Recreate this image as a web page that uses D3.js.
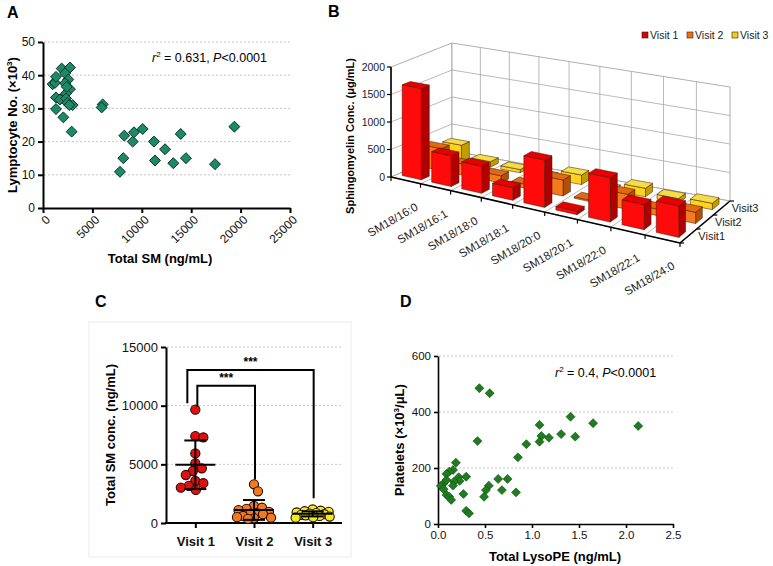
<!DOCTYPE html>
<html>
<head>
<meta charset="utf-8">
<script src="https://cdn.jsdelivr.net/npm/d3@7"></script>
<style>
  body { margin: 0; background: #fff; }
  text { font-family: Arial, "Liberation Sans", sans-serif; }
</style>
</head>
<body>
<script>
// ---------------- data ----------------
// A: total SM vs lymphocyte count
const totalSM = [980, 1215, 1315, 1890, 2730, 2230, 2560, 2230, 2730, 2330, 1315, 1720, 2330, 2460,
  3000, 2660, 1315, 2060, 2900, 6040, 5940, 2400,
  7790, 8130, 8230, 9080, 9210, 10090, 11230, 11340, 12350, 13190, 13940, 14470, 17410, 19370];
const lymphocytes = [37.3, 37.7, 39.5, 42.0, 42.3, 40.6, 38.7, 37.6, 35.8, 34.5, 33.3, 32.7, 33.0, 31.7,
  31.0, 31.0, 29.8, 27.3, 23.0, 31.2, 30.3, 36.5,
  10.9, 15.0, 21.8, 20.0, 22.8, 23.8, 20.0, 14.3, 17.7, 13.5, 22.3, 15.0, 13.2, 24.5];
const xTicksA = [0, 5000, 10000, 15000, 20000, 25000];
const yTicksA = [0, 10, 20, 30, 40, 50];

// B: sphingomyelin species by visit
const smSpecies = ["SM18/16:0", "SM18/16:1", "SM18/18:0", "SM18/18:1", "SM18/20:0",
  "SM18/20:1", "SM18/22:0", "SM18/22:1", "SM18/24:0"];
const visits = ["Visit 1", "Visit 2", "Visit 3"];
const depthLabels = ["Visit1", "Visit2", "Visit3"];
const visit1Conc = [1650, 550, 480, 220, 820, 60, 750, 420, 520];
const visit2Conc = [400, 200, 130, 70, 280, 25, 260, 110, 190];
const visit3Conc = [300, 100, 60, 30, 170, 15, 150, 80, 110];
const yTicksB = [0, 500, 1000, 1500, 2000];

// C: total SM per visit
const smVisit1 = [9660, 7400, 7290, 5930, 5080, 4660, 4430, 4090, 3580, 3390, 3160, 3020, 2820];
const smVisit2 = [3300, 2700, 1450, 1300, 1200, 1100, 950, 850, 800, 750, 600, 500, 450, 400, 350];
const smVisit3 = [1150, 1050, 1000, 950, 900, 850, 800, 750, 700, 650, 600, 550, 500, 450];
const yTicksC = [0, 5000, 10000, 15000];
const sigBrackets = [
  { from: "Visit 1", to: "Visit 3", top: 13050, leftEnd: 10200, rightEnd: 2100, label: "***" },
  { from: "Visit 1", to: "Visit 2", top: 11700, leftEnd: 9900, rightEnd: 3700, label: "***" }
];

// D: total LysoPE vs platelets
const lysoPE = [0.44, 0.55, 1.41, 1.65, 2.13, 1.08, 1.31, 1.46, 1.10, 1.18, 1.08, 0.94, 0.42, 0.85,
  0.19, 0.16, 0.30, 0.12, 0.09, 0.22, 0.23, 0.17, 0.16, 0.06, 0.03, 0.06, 0.09, 0.09, 0.12, 0.14,
  0.27, 0.30, 0.33, 0.64, 0.74, 0.68, 0.54, 0.51, 0.49, 0.83];
const platelets = [485, 467, 383, 360, 350, 354, 321, 312, 314, 308, 294, 285, 296, 238,
  219, 193, 169, 187, 179, 167, 154, 151, 137, 145, 136, 124, 157, 104, 97, 86,
  107, 47, 38, 161, 161, 121, 137, 121, 97, 113];
const xTicksD = [0, 0.5, 1, 1.5, 2, 2.5];
const yTicksD = [0, 200, 400, 600];

// ---------------- drawing ----------------
const svg = d3.select("body").append("svg").attr("width", 773).attr("height", 566);

function panelLetter(x, y, s) {
  svg.append("text").attr("x", x).attr("y", y).attr("font-size", 16).attr("font-weight", "bold").text(s);
}
function styleAxis(g, size, width) {
  g.attr("font-family", "Arial, 'Liberation Sans', sans-serif").attr("font-size", size);
  g.selectAll("path, line").attr("stroke", "#000").attr("stroke-width", width);
  g.selectAll("text").attr("fill", "#111");
}
function grid(g, vals, x1, x2, yS) {
  g.selectAll(null).data(vals).join("line")
    .attr("x1", x1).attr("x2", x2).attr("y1", d => yS(d)).attr("y2", d => yS(d))
    .attr("stroke", "#b8b8b8").attr("stroke-width", 0.8).attr("stroke-dasharray", "2,2");
}
const square = d3.symbol(d3.symbolSquare);

// ---- panel A ----
panelLetter(7, 18, "A");
const gA = svg.append("g");
const xA = d3.scaleLinear([0, 25000], [43, 290]);
const yA = d3.scaleLinear([0, 50], [208, 42]);
grid(gA, yTicksA.slice(1), 44, 290, yA);
const axAx = gA.append("g").attr("transform", "translate(0,208)")
  .call(d3.axisBottom(xA).tickValues(xTicksA).tickFormat(d3.format("d")).tickSize(5).tickSizeOuter(0));
styleAxis(axAx, 12, 2);
axAx.selectAll("text").attr("text-anchor", "end").attr("transform", "rotate(-45)")
  .attr("dx", "-0.3em").attr("dy", "0.5em");
const ayAx = gA.append("g").attr("transform", "translate(43,0)")
  .call(d3.axisLeft(yA).tickValues(yTicksA).tickSize(5).tickSizeOuter(0));
styleAxis(ayAx, 12, 2);
gA.selectAll(".ptA").data(totalSM).join("path")
  .attr("d", square.size(60))
  .attr("transform", (d, i) => `translate(${xA(d)},${yA(lymphocytes[i])}) rotate(45)`)
  .attr("fill", "#1b8a68").attr("stroke", "#0b2a20").attr("stroke-width", 0.9);
const annA = gA.append("text").attr("x", 152).attr("y", 62).attr("font-size", 12.5);
annA.append("tspan").attr("font-style", "italic").text("r");
annA.append("tspan").attr("font-size", 8).attr("dy", -5).text("2");
annA.append("tspan").attr("dy", 5).text(" = 0.631, ");
annA.append("tspan").attr("font-style", "italic").text("P");
annA.append("tspan").text("<0.0001");
gA.append("text").attr("x", 160).attr("y", 263).attr("text-anchor", "middle")
  .attr("font-size", 13).attr("font-weight", "bold").text("Total SM (ng/mL)");
const tyA = gA.append("text").attr("transform", "translate(17,125) rotate(-90)").attr("text-anchor", "middle")
  .attr("font-size", 13).attr("font-weight", "bold");
tyA.append("tspan").text("Lymptocyte No. (\u00d710");
tyA.append("tspan").attr("font-size", 8).attr("dy", -5).text("3");
tyA.append("tspan").attr("dy", 5).text(")");

// ---- panel B (3D bars) ----
panelLetter(328, 17, "B");
const gB = svg.append("g");
const uB = d3.scaleBand(smSpecies, [0, 9]).paddingInner(0.35).paddingOuter(0.175);
const vB = d3.scaleBand(visits, [0, 3]).paddingInner(0.6).paddingOuter(0.3);
const zB = d3.scaleLinear([0, 2000], [0, 1]);
function projB(u, v, val) {
  const t = u / 9, tw = t / (1 + 0.1 * (1 - t)), s = v / 3;
  const w00 = (1 - tw) * (1 - s), w10 = tw * (1 - s), w01 = (1 - tw) * s, w11 = tw * s;
  const x = w00 * 391 + w10 * 680 + w01 * 452 + w11 * 730;
  const yb = w00 * 177 + w10 * 243 + w01 * 151 + w11 * 201;
  const h = w00 * 110 + w10 * 122 + w01 * 108 + w11 * 114;
  return [x, yb - zB(val) * h];
}
const polyB = pts => "M" + pts.map(p => projB(p[0], p[1], p[2]).join(",")).join("L") + "Z";
const segB = (a, b, col, w) => {
  const p = projB(a[0], a[1], a[2]), q = projB(b[0], b[1], b[2]);
  gB.append("line").attr("x1", p[0]).attr("y1", p[1]).attr("x2", q[0]).attr("y2", q[1])
    .attr("stroke", col).attr("stroke-width", w);
};
// walls and floor
[[[0, 0, 0], [0, 3, 0], [0, 3, 2000], [0, 0, 2000]],
 [[0, 3, 0], [9, 3, 0], [9, 3, 2000], [0, 3, 2000]],
 [[0, 0, 0], [9, 0, 0], [9, 3, 0], [0, 3, 0]]].forEach(q =>
  gB.append("path").attr("d", polyB(q)).attr("fill", "#fff").attr("stroke", "#9a9a9a").attr("stroke-width", 0.8));
yTicksB.slice(1, 4).forEach(t => {
  segB([0, 0, t], [0, 3, t], "#a8a8a8", 0.8);
  segB([0, 3, t], [9, 3, t], "#a8a8a8", 0.8);
});
d3.range(1, 9).forEach(u => {
  segB([u, 3, 0], [u, 3, 2000], "#a8a8a8", 0.8);
  segB([u, 0, 0], [u, 3, 0], "#a8a8a8", 0.8);
});
// bars
const concs = [visit1Conc, visit2Conc, visit3Conc];
const barColors = [
  { front: "#ff0a0a", side: "#b00000", top: "#e80000", key: "#e00000" },
  { front: "#f57a1c", side: "#b25008", top: "#e46812", key: "#f07010" },
  { front: "#ffd21c", side: "#c39c00", top: "#f5dd48", key: "#f5cc10" }
];
const bars = smSpecies.flatMap((s, i) => visits.map((vis, j) => ({ s, vis, i, j, val: concs[j][i] })))
  .sort((a, b) => b.j - a.j || a.i - b.i);
bars.forEach(b => {
  const u0 = uB(b.s), u1 = u0 + uB.bandwidth(), v0 = vB(b.vis), v1 = v0 + vB.bandwidth(), h = b.val;
  const c = barColors[b.j];
  const faces = [
    [[u1, v0, 0], [u1, v1, 0], [u1, v1, h], [u1, v0, h], c.side],
    [[u0, v0, 0], [u1, v0, 0], [u1, v0, h], [u0, v0, h], c.front],
    [[u0, v0, h], [u1, v0, h], [u1, v1, h], [u0, v1, h], c.top]
  ];
  faces.forEach(f => gB.append("path").attr("d", polyB(f.slice(0, 4)))
    .attr("fill", f[4]).attr("stroke", "#3a1400").attr("stroke-width", 0.5).attr("stroke-linejoin", "round"));
});
// axes
segB([0, 0, 0], [0, 0, 2000], "#000", 1.6);
segB([0, 0, 0], [9, 0, 0], "#000", 1.6);
segB([9, 0, 0], [9, 3, 0], "#000", 1.6);
yTicksB.forEach(t => {
  const p = projB(0, 0, t);
  gB.append("line").attr("x1", p[0] - 4).attr("x2", p[0]).attr("y1", p[1]).attr("y2", p[1]).attr("stroke", "#000").attr("stroke-width", 1.2);
  gB.append("text").attr("x", p[0] - 6).attr("y", p[1] + 3.5).attr("text-anchor", "end").attr("font-size", 10.5).attr("fill", "#222").text(t);
});
d3.range(0, 10).forEach(u => {
  const p = projB(u, 0, 0);
  gB.append("line").attr("x1", p[0]).attr("x2", p[0]).attr("y1", p[1]).attr("y2", p[1] + 4).attr("stroke", "#000").attr("stroke-width", 1.2);
});
d3.range(0, 4).forEach(v => {
  const p = projB(9, v, 0);
  gB.append("line").attr("x1", p[0]).attr("x2", p[0] + 4).attr("y1", p[1]).attr("y2", p[1]).attr("stroke", "#000").attr("stroke-width", 1.2);
});
smSpecies.forEach(s => {
  const p = projB(uB(s) + uB.bandwidth() / 2, 0, 0);
  gB.append("text").attr("transform", `translate(${p[0] + 13},${p[1] + 29}) rotate(-30)`)
    .attr("text-anchor", "end").attr("font-size", 11.5).attr("fill", "#222").text(s);
});
visits.forEach((vis, j) => {
  const p = projB(9, vB(vis) + vB.bandwidth() / 2, 0);
  gB.append("text").attr("x", p[0] + 10).attr("y", p[1] + 4).attr("font-size", 11).attr("fill", "#222").text(depthLabels[j]);
});
gB.append("text").attr("transform", "translate(354,136) rotate(-90)").attr("text-anchor", "middle")
  .attr("font-size", 11).attr("font-weight", "bold").text("Sphingomyelin Conc. (\u03bcg/mL)");
visits.forEach((vis, j) => {
  const x = 642 + j * 45;
  gB.append("rect").attr("x", x).attr("y", 32).attr("width", 6).attr("height", 6)
    .attr("fill", barColors[j].key).attr("stroke", "#222").attr("stroke-width", 0.6);
  gB.append("text").attr("x", x + 8).attr("y", 39).attr("font-size", 10.5).attr("fill", "#222").text(vis);
});

// ---- panel C ----
panelLetter(95, 307, "C");
const gC = svg.append("g");
gC.append("rect").attr("x", 89).attr("y", 322).attr("width", 262).attr("height", 235)
  .attr("fill", "none").attr("stroke", "#ececec").attr("stroke-width", 1);
const yC = d3.scaleLinear([0, 15000], [523, 347]);
const xC = d3.scalePoint(visits, [166, 342]).padding(0.5);
grid(gC, yTicksC.slice(1), 167, 342, yC);
const ayC = gC.append("g").attr("transform", "translate(166,0)")
  .call(d3.axisLeft(yC).tickValues(yTicksC).tickFormat(d3.format("d")).tickSize(5).tickSizeOuter(0));
styleAxis(ayC, 13, 2);
const axC = gC.append("g").attr("transform", "translate(0,523)")
  .call(d3.axisBottom(xC).tickSize(5).tickSizeOuter(0));
styleAxis(axC, 13, 2);
axC.select(".domain").attr("d", "M165,0H342");
axC.selectAll("text").attr("font-weight", "bold").attr("dy", "1.15em");
gC.append("text").attr("transform", "translate(115,435) rotate(-90)").attr("text-anchor", "middle")
  .attr("font-size", 13).attr("font-weight", "bold").text("Total SM conc. (ng/mL)");
const groupsC = [smVisit1, smVisit2, smVisit3];
const dotColors = ["#e01010", "#f07a1e", "#ecec22"];
// simple beeswarm: nearest free offset, limited spread, overlap allowed when crowded
function swarm(values, cx, minDist, maxOff) {
  const placed = [];
  values.slice().sort((a, b) => b - a).forEach(v => {
    const y = yC(v);
    let best = 0, bestD = -1;
    for (let k = 0; k <= maxOff * 4; k++) {
      const o = k === 0 ? 0 : (k % 2 ? (k + 1) / 2 : -k / 2) * 0.5;
      const d = placed.length ? d3.min(placed, p => Math.hypot(p.x - (cx + o), p.y - y)) : Infinity;
      if (d >= minDist) { best = o; break; }
      if (d > bestD) { bestD = d; best = o; }
    }
    placed.push({ x: cx + best, y });
  });
  return placed;
}
groupsC.forEach((vals, j) => {
  const cx = xC(visits[j]);
  gC.selectAll(null).data(swarm(vals, cx, 8, 17)).join("circle")
    .attr("cx", d => d.x).attr("cy", d => d.y).attr("r", 4.6)
    .attr("fill", dotColors[j]).attr("stroke", "#2a0a00").attr("stroke-width", 1.1);
  const m = d3.mean(vals), sd = d3.deviation(vals);
  const ln = (x1, y1, x2, y2) => gC.append("line").attr("x1", x1).attr("y1", y1).attr("x2", x2).attr("y2", y2)
    .attr("stroke", "#000").attr("stroke-width", 2);
  ln(cx - 20, yC(m), cx + 20, yC(m));
  ln(cx, yC(m - sd), cx, yC(m + sd));
  ln(cx - 11, yC(m + sd), cx + 11, yC(m + sd));
  ln(cx - 11, yC(m - sd), cx + 11, yC(m - sd));
});
sigBrackets.forEach((b, k) => {
  const xl = xC(b.from) + [-8, 2][k], xr = xC(b.to) + 1;
  gC.append("path")
    .attr("d", `M${xl},${yC(b.leftEnd)}V${yC(b.top)}H${xr}V${yC(b.rightEnd)}`)
    .attr("fill", "none").attr("stroke", "#000").attr("stroke-width", 2);
  gC.append("text").attr("x", (xl + xr) / 2).attr("y", yC(b.top) - 4).attr("text-anchor", "middle")
    .attr("font-size", 12).attr("font-weight", "bold").text(b.label);
});

// ---- panel D ----
panelLetter(400, 307, "D");
const gD = svg.append("g");
const xD = d3.scaleLinear([0, 2.5], [438, 673]);
const yD = d3.scaleLinear([0, 600], [524, 356]);
grid(gD, yTicksD.slice(1), 439, 673, yD);
const axD = gD.append("g").attr("transform", "translate(0,524)")
  .call(d3.axisBottom(xD).tickValues(xTicksD).tickFormat(d3.format(".1f")).tickSize(4).tickSizeOuter(0));
styleAxis(axD, 11.5, 1.6);
const ayD = gD.append("g").attr("transform", "translate(438,0)")
  .call(d3.axisLeft(yD).tickValues(yTicksD).tickSize(4).tickSizeOuter(0));
styleAxis(ayD, 11.5, 1.6);
gD.selectAll(".ptD").data(lysoPE).join("path")
  .attr("d", square.size(40))
  .attr("transform", (d, i) => `translate(${xD(d)},${yD(platelets[i])}) rotate(45)`)
  .attr("fill", "#1e7d1e").attr("stroke", "#0f4a0f").attr("stroke-width", 0.6);
const annD = gD.append("text").attr("x", 555).attr("y", 377).attr("font-size", 12.5);
annD.append("tspan").attr("font-style", "italic").text("r");
annD.append("tspan").attr("font-size", 8).attr("dy", -5).text("2");
annD.append("tspan").attr("dy", 5).text(" = 0.4, ");
annD.append("tspan").attr("font-style", "italic").text("P");
annD.append("tspan").text("<0.0001");
gD.append("text").attr("x", 555).attr("y", 561).attr("text-anchor", "middle")
  .attr("font-size", 13).attr("font-weight", "bold").text("Total LysoPE (ng/mL)");
const tyD = gD.append("text").attr("transform", "translate(404,440) rotate(-90)").attr("text-anchor", "middle")
  .attr("font-size", 13).attr("font-weight", "bold");
tyD.append("tspan").text("Platelets (\u00d710");
tyD.append("tspan").attr("font-size", 8).attr("dy", -5).text("3");
tyD.append("tspan").attr("dy", 5).text("/\u03bcL)");
</script>
</body>
</html>
